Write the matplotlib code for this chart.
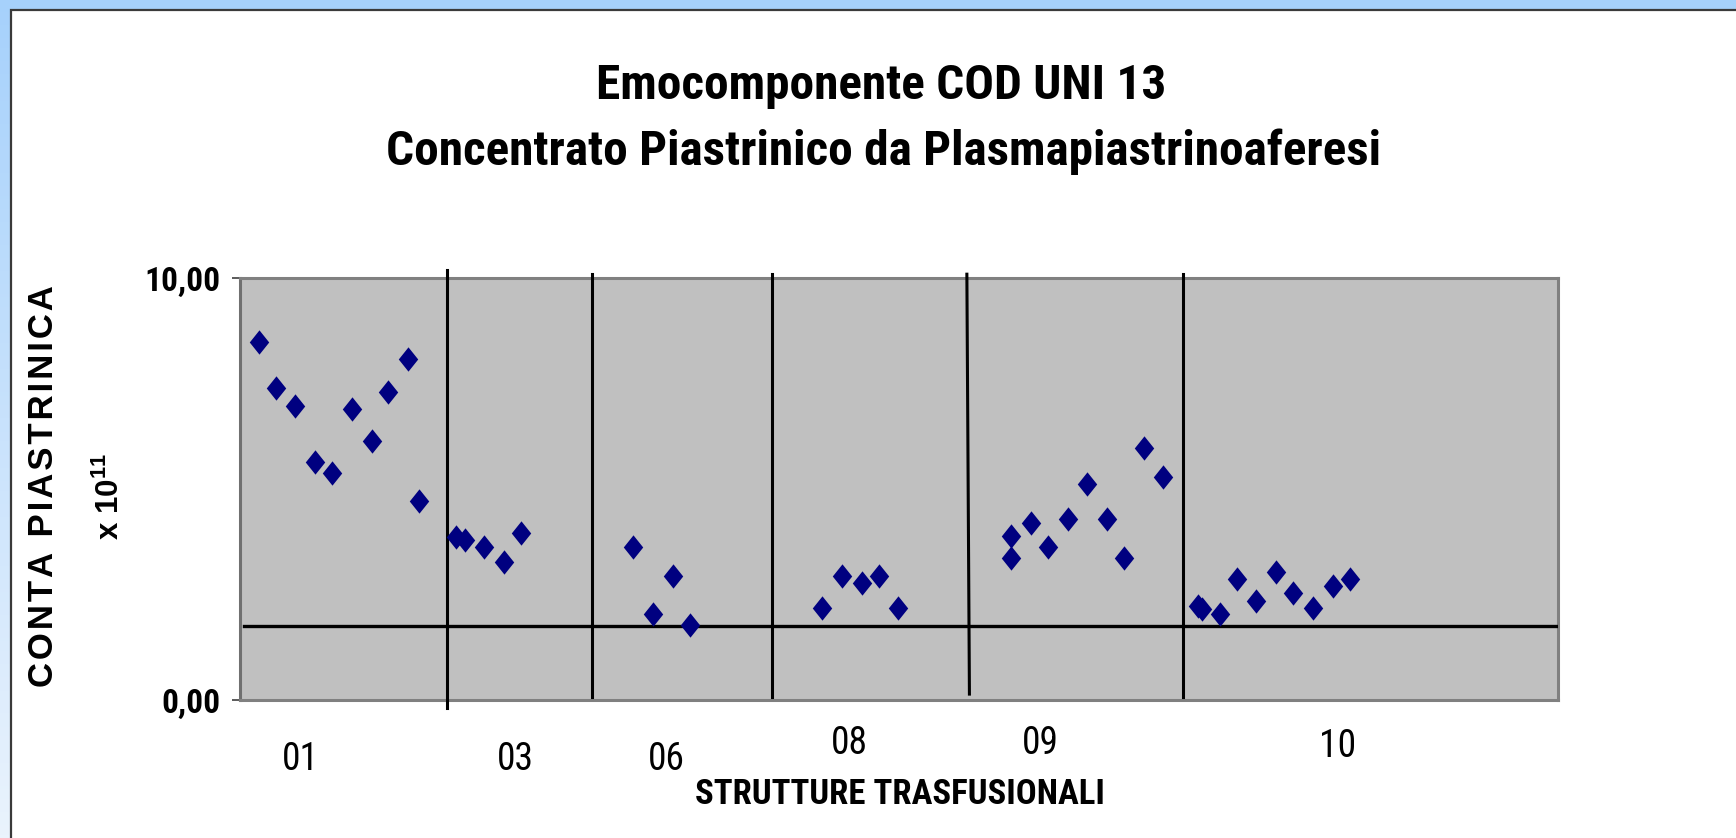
import matplotlib
matplotlib.use("Agg")
import matplotlib.pyplot as plt
import matplotlib.patches as patches
import numpy as np

plt.rcParams["mathtext.fontset"] = "custom"
plt.rcParams["mathtext.rm"] = "Liberation Sans"
plt.rcParams["mathtext.bf"] = "Liberation Sans:bold"

NARROW = ["Roboto Condensed", "Liberation Sans", "DejaVu Sans"]
WIDE = ["Liberation Sans", "DejaVu Sans"]

# data (x = sample position, y = conta piastrinica x 10^11)
x01 = [0.95, 1.81, 2.81, 3.83, 4.68, 5.68, 6.70, 7.54, 8.56, 9.12]
y01 = [8.49, 7.39, 6.97, 5.63, 5.38, 6.90, 6.14, 7.31, 8.07, 4.71]
x03 = [10.98, 11.44, 12.42, 13.42, 14.29]
y03 = [3.87, 3.79, 3.62, 3.28, 3.95]
x06 = [20.00, 21.01, 22.01, 22.88]
y06 = [3.62, 2.04, 2.95, 1.77]
x08 = [29.60, 30.60, 31.62, 32.47, 33.47]
y08 = [2.19, 2.95, 2.78, 2.95, 2.19]
x09 = [39.21, 39.21, 40.21, 41.08, 42.08, 43.08, 44.08, 44.94, 45.94, 46.94]
y09 = [3.89, 3.36, 4.20, 3.62, 4.29, 5.13, 4.29, 3.36, 5.96, 5.29]
x10 = [48.72, 48.90, 49.81, 50.67, 51.67, 52.67, 53.53, 54.53, 55.55, 56.42]
y10 = [2.22, 2.15, 2.04, 2.86, 2.35, 3.03, 2.53, 2.19, 2.69, 2.86]

groups = ["01", "03", "06", "08", "09", "10"]
group_label_x = [3.05, 13.98, 21.7, 31.0, 40.7, 55.8]
group_label_y = [-0.142, -0.142, -0.142, -0.104, -0.104, -0.11]

# separator lines (drawn by hand on the slide) and threshold line
sep_x_top = [10.54, 17.88, 27.03, 36.95, 47.96]
sep_x_bot = [10.54, 17.88, 27.03, 37.08, 47.96]
sep_y_top = [10.19, 10.09, 10.09, 10.09, 10.09]
sep_y_bot = [-0.19, 0.07, 0.07, 0.14, 0.07]
threshold = 1.76

fig = plt.figure(figsize=(17.36, 8.38), dpi=100)

# slide background: blue gradient frame + white panel
bg = fig.add_axes([0, 0, 1, 1], zorder=-5)
top_c = np.array([166, 209, 251]) / 255
bot_c = np.array([234, 243, 253]) / 255
t = np.linspace(0, 1, 256)[:, None, None]
grad = top_c * (1 - t) + bot_c * t
bg.imshow(grad, aspect="auto", extent=[0, 1, 0, 1], origin="upper")
bg.add_patch(patches.Rectangle((11 / 1736, -0.1), 1.2, 1.1 - 10 / 838,
                               facecolor="white", edgecolor="#3a3a3a", lw=1.6,
                               transform=bg.transAxes))
bg.set_xlim(0, 1)
bg.set_ylim(0, 1)
bg.axis("off")

ax = fig.add_axes([240 / 1736, 138 / 838, 1318 / 1736, 422 / 838])
ax.set_facecolor("#c0c0c0")
for s in ax.spines.values():
    s.set_color("#808080")
    s.set_linewidth(2.2)
ax.spines["left"].set_color("#707070")

ax.set_xlim(0, 67)
ax.set_ylim(0, 10)

for xs, ys in [(x01, y01), (x03, y03), (x06, y06), (x08, y08), (x09, y09), (x10, y10)]:
    ax.plot(xs, ys, linestyle="none", marker=[(0, 1), (0.8, 0), (0, -1), (-0.8, 0), (0, 1)],
            markersize=17.5, color="#000080", markeredgewidth=0, zorder=4)

for xt, xb, yt, yb in zip(sep_x_top, sep_x_bot, sep_y_top, sep_y_bot):
    ax.plot([xt, xb], [yt, yb], color="black", lw=2.2, clip_on=False, zorder=3)
ax.plot([0.2, 66.9], [threshold, threshold], color="black", lw=2.4, zorder=3)

ax.set_yticks([0, 10])
ax.set_yticklabels(["0,00", "10,00"], family=NARROW, fontweight="bold", fontsize=24)
ax.set_xticks([])
ax.tick_params(axis="y", direction="out", length=6, width=1.2, color="#404040", pad=8)

for lab, lx, ly in zip(groups, group_label_x, group_label_y):
    ax.text(lx, ly, lab, transform=ax.get_xaxis_transform(), ha="center", va="center",
            family=NARROW, fontsize=27)

ax.text(0.501, -0.223, "STRUTTURE TRASFUSIONALI", transform=ax.transAxes, ha="center",
        va="center", family=NARROW, fontweight="bold", fontsize=25)

ylab = "\u200a".join("CONTA PIASTRINICA")
fig.text(44 / 1736, 1 - 486 / 838, ylab, rotation=90, ha="center", va="center",
         family=WIDE, fontweight="bold", fontsize=25)
fig.text(110 / 1736, 1 - 497 / 838, r"x 10$^{\mathregular{11}}$", rotation=90, ha="center",
         va="center", family=WIDE, fontweight="bold", fontsize=22.5)

fig.text(881 / 1736, 1 - 86 / 838, "Emocomponente COD UNI 13", ha="center", va="center",
         family=NARROW, fontweight="bold", fontsize=35.5)
fig.text(883 / 1736, 1 - 152 / 838, "Concentrato Piastrinico da Plasmapiastrinoaferesi",
         ha="center", va="center", family=NARROW, fontweight="bold", fontsize=35.5)

fig.savefig("out.png", dpi=100)
